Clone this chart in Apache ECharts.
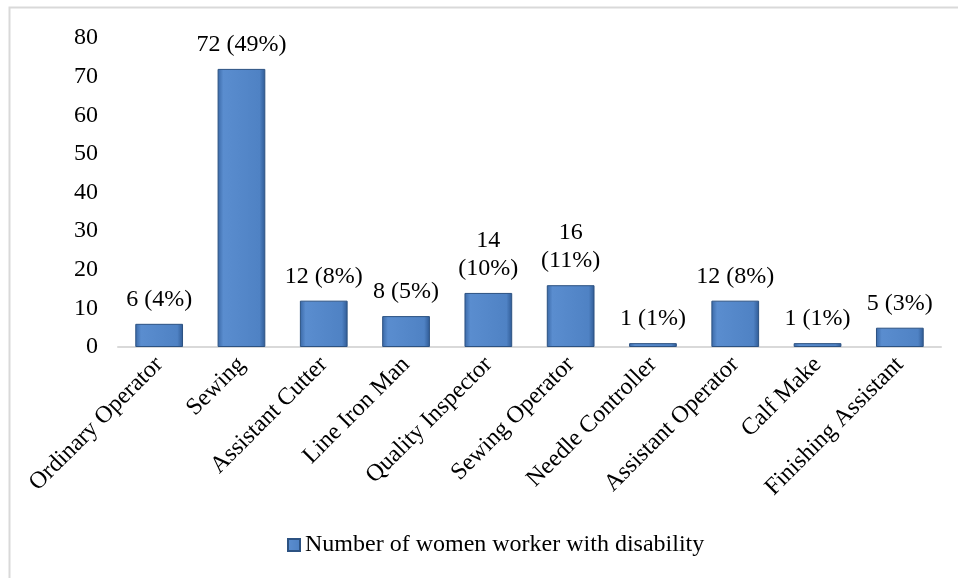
<!DOCTYPE html>
<html>
<head>
<meta charset="utf-8">
<script src="https://cdn.jsdelivr.net/npm/echarts@6/dist/echarts.min.js"></script>
<style>
  html, body { margin: 0; padding: 0; background: #fff; }
  #main { width: 958px; height: 578px; }
</style>
</head>
<body>
<div id="main"></div>
<script>
// data
const categories = ['Ordinary Operator', 'Sewing', 'Assistant Cutter', 'Line Iron Man', 'Quality Inspector',
  'Sewing Operator', 'Needle Controller', 'Assistant Operator', 'Calf Make', 'Finishing Assistant']
const workers = [6, 72, 12, 8, 14, 16, 1, 12, 1, 5]
const percents = [4, 49, 8, 5, 10, 11, 1, 8, 1, 3]
const yTicks = [0, 10, 20, 30, 40, 50, 60, 70, 80]
const seriesName = 'Number of women worker with disability'

const font = '"Liberation Serif", "Times New Roman", serif'

// bar fill, bevel look
const barColor = new echarts.graphic.LinearGradient(0, 0, 1, 0, [
  { offset: 0, color: '#3a68a6' },
  { offset: 0.12, color: '#5a8dcf' },
  { offset: 0.88, color: '#4f82c4' },
  { offset: 1, color: '#2f5a94' }
])

const chart = echarts.init(document.getElementById('main'))
chart.setOption({
  animation: false,
  textStyle: { fontFamily: font },
  graphic: [{
    type: 'rect',
    shape: { x: 9.5, y: 7.5, width: 960, height: 580 },
    style: { fill: 'none', stroke: '#d9d9d9', lineWidth: 2 },
    silent: true
  }],
  grid: { left: 118, right: 17, top: 38, bottom: 231 },
  legend: {
    bottom: 16,
    left: 282,
    itemWidth: 12,
    itemHeight: 12,
    itemGap: 3,
    icon: 'rect',
    textStyle: { fontFamily: font, fontSize: 24, color: '#000' },
    data: [seriesName]
  },
  xAxis: {
    type: 'category',
    data: categories,
    axisLine: { lineStyle: { color: '#d9d9d9', width: 2 } },
    axisTick: { show: false },
    axisLabel: { rotate: 45, margin: 14, fontSize: 24, color: '#000', fontFamily: font, interval: 0 }
  },
  yAxis: {
    type: 'value',
    min: yTicks[0],
    max: yTicks[yTicks.length - 1],
    interval: 10,
    axisLine: { show: false },
    axisTick: { show: false },
    splitLine: { show: false },
    axisLabel: { fontSize: 24, color: '#000', fontFamily: font, margin: 20 }
  },
  series: [{
    name: seriesName,
    type: 'bar',
    data: workers,
    barWidth: '58%',
    itemStyle: { color: barColor, borderColor: '#2c5282', borderWidth: 1 },
    label: {
      show: true,
      position: 'top',
      distance: 10,
      fontSize: 24,
      lineHeight: 28,
      color: '#000',
      fontFamily: font,
      formatter: p => {
        const v = workers[p.dataIndex]
        const pc = percents[p.dataIndex]
        // the two middle labels are wrapped in the picture
        return (v === 14 || v === 16) ? v + '\n(' + pc + '%)' : v + ' (' + pc + '%)'
      }
    }
  }]
})
</script>
</body>
</html>
